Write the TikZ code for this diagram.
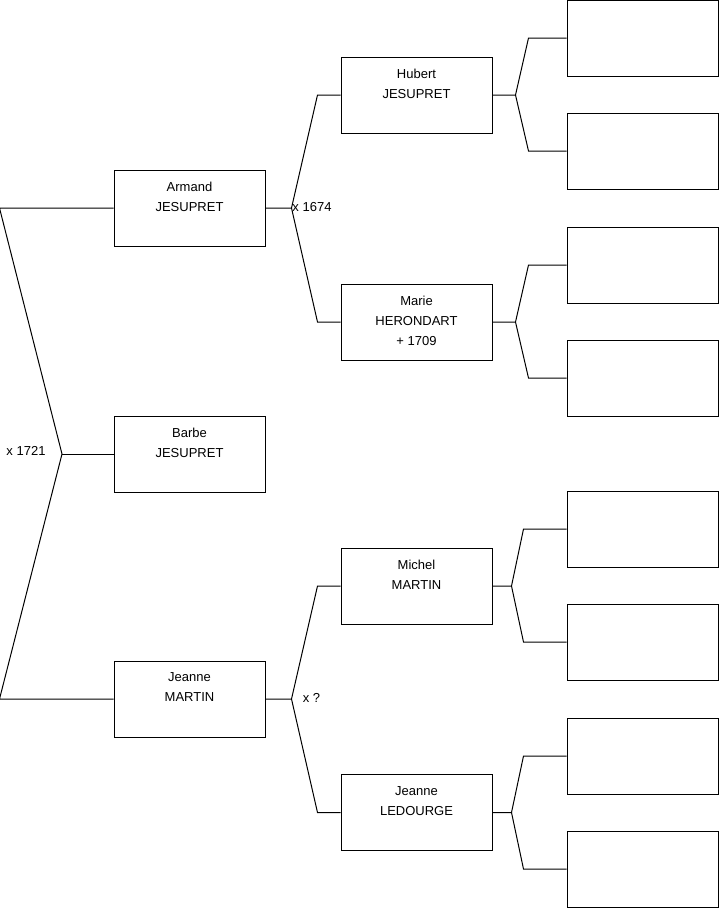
\documentclass[tikz,border=0pt]{standalone}
\usepackage{fontspec}
\setmainfont{Liberation Sans}
\usetikzlibrary{positioning}
\tikzset{
  personbox/.style={draw=black,fill=white,line width=1pt,
                    minimum width=151pt,minimum height=76pt,inner sep=0pt},
  emptybox/.style={personbox},
  nametext/.style={anchor=north,inner sep=0pt,align=center,
                   font=\fontsize{13}{20}\selectfont},
  marriage/.style={inner sep=0pt,font=\fontsize{13}{16}\selectfont},
  branch/.style={draw=black,line width=1pt,line join=miter}
}

\begin{document}
\begin{tikzpicture}[x=1pt,y=-1pt]
  \useasboundingbox (0,0) rectangle (719,908);
  % first generation
  \node[personbox] (armand) at (189.5,208) {};
  \node[nametext,below=12pt of armand.north] (armand-t) {Armand\\JESUPRET};
  \node[personbox] (barbe) at (189.5,454) {};
  \node[nametext,below=12pt of barbe.north] (barbe-t) {Barbe\\JESUPRET};
  \node[personbox] (jeanne) at (189.5,699) {};
  \node[nametext,below=12pt of jeanne.north] (jeanne-t) {Jeanne\\MARTIN};
  % parents
  \node[personbox] (hubert) at (416.5,95) {};
  \node[nametext,below=12pt of hubert.north] (hubert-t) {Hubert\\JESUPRET};
  \node[personbox] (marie) at (416.5,322) {};
  \node[nametext,below=12pt of marie.north] (marie-t) {Marie\\HERONDART\\+ 1709};
  \node[personbox] (michel) at (416.5,586) {};
  \node[nametext,below=12pt of michel.north] (michel-t) {Michel\\MARTIN};
  \node[personbox] (ledourge) at (416.5,812.5) {};
  \node[nametext,below=12pt of ledourge.north] (ledourge-t) {Jeanne\\LEDOURGE};
  % grandparents, unknown
  \foreach \i/\yy in {1/38,2/151,3/265,4/378,5/529,6/642,7/756,8/869}
    \node[emptybox] (e\i) at (642.5,\yy) {};

  % couple Armand x Jeanne
  \coordinate (v0) at (62,454);
  \draw[branch] (armand.west) -- ([xshift=-114]armand.west) -- (v0)
    -- ([xshift=-114]jeanne.west) -- (jeanne.west);
  \draw[branch] (v0) -- (barbe.west);
  \node[marriage] (m0) at (26,451) {x 1721};

  \draw[branch] (armand.east) -- ++(26,0) coordinate (v-armand)
    -- ([xshift=-23]hubert.west) -- (hubert.west);
  \draw[branch] (v-armand) -- ([xshift=-23]marie.west) -- (marie.west);
  \node[marriage] (m1) at (312,207) {x 1674};

  \draw[branch] (jeanne.east) -- ++(26,0) coordinate (v-jeanne)
    -- ([xshift=-23]michel.west) -- (michel.west);
  \draw[branch] (v-jeanne) -- ([xshift=-23]ledourge.west) -- (ledourge.west);
  \node[marriage] (m2) at (311.5,698) {x ?};

  \foreach \p/\up/\dn/\s/\t in {hubert/e1/e2/23/38,marie/e3/e4/23/38,
                                michel/e5/e6/19/43,ledourge/e7/e8/19/43}{
    \draw[branch] (\p.east) -- ++(\s,0) coordinate (v-\p)
      -- ([xshift=-\t]\up.west) -- (\up.west);
    \draw[branch] (v-\p) -- ([xshift=-\t]\dn.west) -- (\dn.west);
  }
\end{tikzpicture}
\end{document}
